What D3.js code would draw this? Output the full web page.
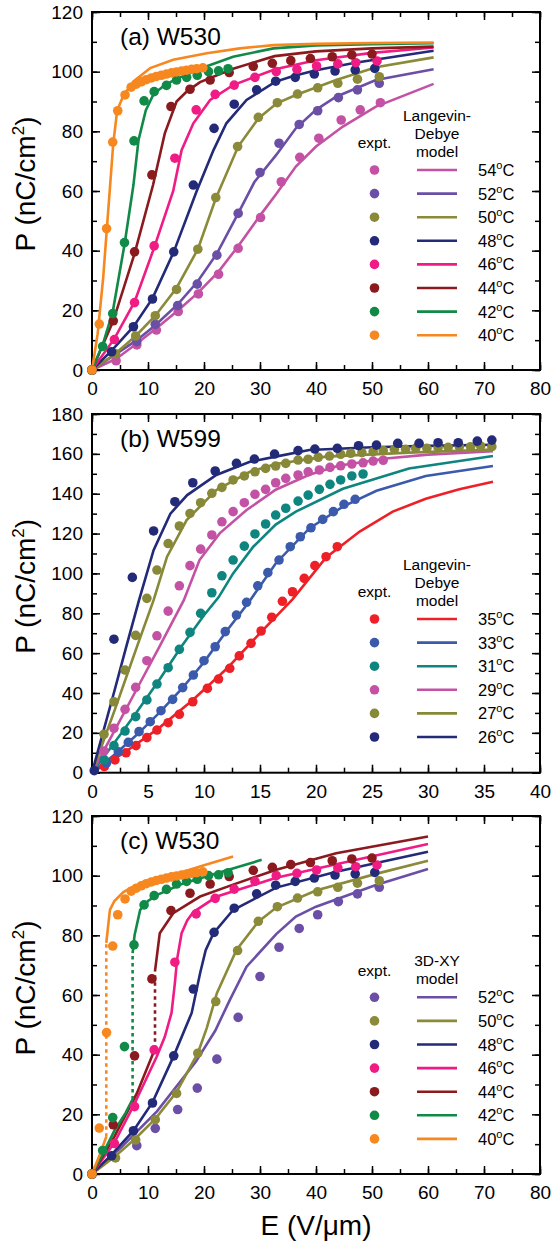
<!DOCTYPE html>
<html>
<head>
<meta charset="utf-8">
<script src="https://cdn.jsdelivr.net/npm/d3@7"></script>
<style>
  body { margin: 0; background: #fff; }
  text { font-family: "Liberation Sans", Arial, sans-serif; fill: #000; }
</style>
</head>
<body>
<svg width="552" height="1243"></svg>
<script>
// ---- experimental data, W530 (used in panels a and c) : [E (V/um), P (nC/cm2)]
const e40 = [[0,0],[1.3,15.4],[2.6,47.4],[3.7,76.4],[4.6,86.9],[5.9,92.2],[7.0,94.8],[7.9,95.8],[8.8,96.6],[9.7,97.3],[10.6,97.9],[11.5,98.4],[12.4,98.8],[13.3,99.2],[14.2,99.6],[15.1,99.9],[16.0,100.2],[16.9,100.5],[17.8,100.8],[18.7,101.0],[19.8,101.3]];
const e42 = [[0,0],[1.9,7.9],[3.7,18.9],[5.8,42.7],[7.5,76.8],[9.3,90.2],[11.1,93.3],[13.3,95.4],[15.1,97.2],[16.9,98.1],[18.8,98.8],[20.8,100],[22.6,100.3],[24.3,101]];
const e44 = [[0,0],[3.8,16.5],[7.6,39.6],[10.7,65.4],[14.1,88.3],[17.5,94.1],[21.1,97.2],[24.5,99.7],[28.8,101.8],[32.2,102.8],[35.5,103.7],[39,104.4],[42.9,105],[46.4,105.6],[50,105.9]];
const e46 = [[0,0],[4.0,10.2],[7.6,22.6],[11.1,41.6],[14.8,71],[18.6,87.2],[22,92.4],[25.4,95.5],[29.1,98.1],[32.9,100],[36.6,100.8],[40.1,101.9],[43.9,102.6],[47.1,103],[50.9,103.6]];
const e48 = [[0,0],[3.5,6.1],[7.4,14.5],[10.8,23.8],[14.6,39.6],[18.1,62],[21.8,81],[25.4,89.1],[29.4,93.9],[32.8,96.8],[36.3,98.1],[39.7,99.2],[43.4,100.2],[47,100.6],[50.5,101.1]];
const e50 = [[0,0],[4.2,5.4],[7.8,11.4],[11.3,18.2],[15.1,27],[18.9,40.5],[22.1,57.8],[26,74.9],[29.7,84.7],[33.1,89.6],[36.7,92.5],[40.3,94.6],[43.9,96.1],[47.4,97.5],[51.3,98.3]];
const e52 = [[0,0],[8,9.5],[11.3,15.3],[15.3,21.6],[18.8,28.8],[22.3,38.5],[26.1,52.5],[30,66.2],[33.4,76],[37,82.3],[40.3,86.9],[44,91.3],[47.4,93.9],[51.3,96.1]];
const e54 = [[0,0],[4.3,3.1],[8,8.4],[11.5,13.4],[15.4,19.6],[19,25.5],[22.6,32.1],[26.1,40.8],[30.1,51.1],[33.8,63.1],[37.1,71.3],[40.5,77.7],[44.5,83.8],[47.9,87.2],[51.5,89.6]];

// ---- Langevin-Debye model, W530
const ld40 = [[0,0],[1,12],[2,31],[3,56],[3.8,76],[4.5,87],[5.6,92],[7.4,96.7],[10.4,101.2],[14.5,104],[20.5,106.2],[26.4,107.8],[32.4,108.9],[40,109.3],[50,109.6],[61,109.8]];
const ld42 = [[0,0],[2,9],[3.7,19.5],[5.8,42],[7.4,62],[8.3,77],[9.6,87],[11,92.5],[13,95.5],[15,97.5],[20,101.5],[25.2,105],[32.4,107.8],[40,108.8],[50,109.2],[61,109.5]];
const ld44 = [[0,0],[3.8,16.5],[7.6,39],[10.9,62],[13,79.3],[15.1,90],[17,93.5],[19.3,96.5],[25.2,101],[32.6,105.2],[40,106.8],[50,107.8],[61,108.4]];
const ld46 = [[0,0],[4,10.5],[7.6,22.8],[11.1,41],[14.5,60],[16,73.7],[18.1,82.7],[21.1,90.5],[25.2,95.5],[32.7,100.8],[40,103.8],[50,106.3],[61,108.1]];
const ld48 = [[0,0],[3.5,6.5],[7.4,14.5],[10.8,24],[14.6,39.6],[18.7,60],[21.7,73.7],[24,82.7],[27.6,90.5],[32.7,96.6],[35.8,98.5],[40,100.5],[47,103],[61,107]];
const ld50 = [[0,0],[4.2,5.5],[7.8,11.4],[11.3,18.2],[15.1,27.5],[18.9,40.5],[22.1,57.5],[26.1,74.9],[29.7,84.3],[33,89.4],[36.4,92.2],[43.6,97.2],[50.7,101.5],[61,104.8]];
const ld52 = [[0,0],[8,10],[11.3,15],[15.3,22],[18.8,29.5],[22.3,39],[26.1,52.5],[29,63],[32.9,72.1],[36.4,81],[40,87.2],[43.6,91.6],[50.7,97.2],[61,100.8]];
const ld54 = [[0,0],[4.3,3.7],[8,8.9],[11.5,14],[15.4,20],[19,26],[22.6,33],[26.1,41.5],[30.1,52],[32.9,59],[36.4,68.2],[40,74.9],[44.8,81.6],[50.7,88.3],[61,95.9]];

// ---- experimental data, W599 (panel b)
const b26 = [[0.2,1],[1.96,67],[3.6,98],[5.5,121.3],[7.4,136],[9,145.5],[11,151.4],[12.9,155.2],[14.5,157.4],[16.3,159.9],[18.4,161.6],[19.9,162.4],[21.9,162.8],[23.8,164.1],[25.4,164.4],[27.3,165.3],[29.2,165.3],[30.9,165.6],[32.7,165.6],[34.4,166.4],[35.7,166.9]];
const b27 = [[1.07,19.3],[1.96,35.6],[2.95,51.5],[3.9,68.9],[4.9,87.5],[5.8,101.7],[6.8,115],[7.8,123.8],[8.75,130.1],[9.7,135.5],[10.7,140.2],[11.6,143.2],[12.6,146.9],[13.6,148.9],[14.55,151],[15.5,152.7],[16.4,153.9],[17.3,155.2],[18.4,156.9],[19.3,157.3],[20.2,158.3],[21.2,158.9],[22.2,159.8],[23.1,160.3],[24.1,160.6],[25.1,161.1],[26,161.6],[27,162.3],[28,162.3],[28.9,162.8],[29.9,162.8],[30.9,163.1],[31.8,163.3],[32.8,163.6],[33.8,163.6],[34.7,163.9],[35.7,163.6]];
const b29 = [[1.07,10.9],[1.96,22.3],[2.95,31.8],[3.9,42.8],[4.9,56.2],[5.8,68.7],[6.8,81.1],[7.8,93.8],[8.75,103.9],[9.7,112.2],[10.7,119.3],[11.6,125.9],[12.6,131],[13.6,135.5],[14.55,139.7],[15.5,142.2],[16.4,145.5],[17.3,147.7],[18.4,149.4],[19.3,151],[20.3,151.9],[21.25,153.2],[22.2,154],[23.2,154.9],[24.2,155.5],[25.1,156.4],[26,156.8]];
const b31 = [[1.1,6.4],[1.96,13.6],[2.95,20.9],[3.9,28.1],[4.9,36.5],[5.8,44.5],[6.8,52.7],[7.8,61.9],[8.75,70.4],[9.7,80],[10.7,90.3],[11.6,98.8],[12.6,106.7],[13.6,113.7],[14.55,119.8],[15.5,124.8],[16.4,129.3],[17.3,132.7],[18.4,136.3],[19.3,139.3],[20.3,142.2],[21.25,144.7],[22.2,146.9],[23.2,148.9],[24.2,149.9]];
const b33 = [[1.3,5],[2.35,10.5],[3.24,15.2],[4.2,20.6],[5.2,25.6],[6.16,31.1],[7.2,36.8],[8.1,42.7],[9.05,49],[10,56.2],[11,63.2],[11.9,70.8],[12.9,79.1],[13.8,85.5],[14.8,93.8],[15.7,100.4],[16.7,106.7],[17.7,113.4],[18.6,118.4],[19.55,122.9],[20.6,127.1],[21.55,131],[22.5,134.7],[23.5,137.2]];
const b35 = [[1.1,3],[2.05,6.4],[3.04,10],[3.93,13.6],[4.9,17.6],[5.8,21.4],[6.8,25.1],[7.8,29.3],[9,35.6],[10.3,42.3],[11.3,47],[12.3,52.4],[13.15,58.6],[14.2,64.9],[15.1,71.1],[16.05,78],[17,86],[17.9,90.8],[18.95,97.5],[19.9,103.9],[20.9,108.4],[21.9,113.4]];

// ---- Langevin-Debye model, W599
const m26 = [[0,0],[1,20.5],[2,41],[3,62],[4.2,86.6],[5.5,111.7],[7,130],[8.5,139.3],[11.1,149.4],[14.1,156],[16.4,158.6],[19.4,161.9],[25,163.3],[30,164],[35.8,164.6]];
const m27 = [[0,0],[1,15.5],[2,31],[3,47],[4,63],[5.5,86.6],[6.7,108.4],[8.45,126.8],[11.1,141.8],[14.1,151],[16.4,154.9],[20.9,158.6],[28.3,160.6],[35.8,162.2]];
const m29 = [[0,0],[2,21],[4,42],[6,63],[8.2,86.6],[9.6,106.7],[11.4,120.1],[13.8,131.8],[16.4,142],[19.4,149.5],[22,154],[26.25,157.7],[30,159.6],[35.8,161.3]];
const m31 = [[0,0],[2,15],[4,30.5],[6,46.5],[8,63.5],[10,79],[11.3,88],[12.6,100],[14.4,113.4],[16.4,124.5],[18.2,131],[22.4,142.5],[28.3,152.7],[35.8,158.9]];
const m33 = [[0,0],[2,9],[4,19],[6,30],[8,42],[10,55.5],[12,71],[14,85.5],[16.4,105],[19.4,122.6],[22.4,133.5],[25.4,141.5],[29.8,148.9],[35.8,153.9]];
const m35 = [[0,0],[3,10.5],[6,22.5],[9,36.5],[12,52],[15,70],[17.9,87],[20.9,108],[23.9,121],[26.85,131],[29.8,137.5],[32.8,142.2],[35.8,146]];

// ---- 3D-XY model, W530 (low branch, dotted jump, high branch)
const xy40 = [[[0,0],[1.3,6],[2.55,12.5]], [[2.55,12.5],[2.55,77.5]], [[2.55,77.5],[3.2,88.5],[4,91.5],[5.6,94.5],[7,96],[10.4,98.2],[16.3,101.3],[20,103.5],[25.2,106.4]]];
const xy42 = [[[0,0],[2,7],[4,14.5],[6,20.5],[7.25,25]], [[7.25,25],[7.25,74]], [[7.25,74],[7.6,80],[8.6,88.5],[10,91.5],[11.55,93.5],[16.3,97.4],[22.3,100.8],[30.3,105.3]]];
const xy44 = [[[0,0],[4,12.5],[8,27],[11.25,42]], [[11.25,42],[11.25,68]], [[11.25,68],[12.1,80.7],[14.5,87.4],[19.3,93],[25.2,97],[32.9,102],[43.6,107.5],[60,113.1]]];
const xy46 = [[[0,0],[4,10.5],[7.4,22.8],[11.55,39.3],[13,46],[14.2,54],[14.8,64],[15.2,72],[16,80.7],[17,85],[18.1,87.8],[22.3,93],[32.9,99.3],[43.6,103.8],[60,110.6]]];
const xy48 = [[[0,0],[3.5,6.5],[7.4,14.5],[10.8,24],[14.6,39.6],[17.8,54],[19.3,67.3],[20.3,75],[21.7,80.7],[25.2,88.5],[32.9,96],[43.6,101.3],[60,108]]];
const xy50 = [[[0,0],[4.2,6],[7.8,12],[11.3,18.5],[15.1,27.5],[18.9,40.5],[20.5,49],[22.3,60.6],[25.8,75.1],[29.7,84.6],[32.9,89.3],[40,95],[50.7,100.6],[60,105]]];
const xy52 = [[[0,0],[5,8.5],[11.6,21],[18.5,37.5],[22,48],[24.6,58.3],[27.6,69.5],[32.9,80.4],[36.4,86.3],[40,89.6],[50.7,96.9],[60,102.2]]];

// ---- legend categories and colours
const tempsA = ["54", "52", "50", "48", "46", "44", "42", "40"];
const colorsA = ["#c452a4", "#6b4fa6", "#8a8a38", "#232a78", "#f01b84", "#8b1a1e", "#118a48", "#f7871f"];
const tempsB = ["35", "33", "31", "29", "27", "26"];
const colorsB = ["#ee2027", "#3b5aab", "#0e857f", "#c452a4", "#878838", "#232a78"];
const tempsC = ["52", "50", "48", "46", "44", "42", "40"];

const exptA = [e54, e52, e50, e48, e46, e44, e42, e40];
const modelA = [ld54, ld52, ld50, ld48, ld46, ld44, ld42, ld40];
const exptB = [b35, b33, b31, b29, b27, b26];
const modelB = [m35, m33, m31, m29, m27, m26];
const exptC = [e52, e50, e48, e46, e44, e42, e40];
const modelC = [xy52, xy50, xy48, xy46, xy44, xy42, xy40];
const colorsC = colorsA.slice(1);

const svg = d3.select("svg");
const left = 92, right = 540;

function drawPanel(p) {
  const x = d3.scaleLinear().domain([0, p.xMax]).range([left, right]);
  const y = d3.scaleLinear().domain([0, p.yMax]).range([p.bottom, p.top]);
  const g = svg.append("g");

  // minor then major ticks, all pointing inward
  const xMinor = d3.range(0, p.xMax + 0.001, p.xStep / 2);
  const yMinor = d3.range(0, p.yMax + 0.001, p.yStep / 2);
  const xMajor = d3.range(0, p.xMax + 0.001, p.xStep);
  const yMajor = d3.range(0, p.yMax + 0.001, p.yStep);

  const axes = [
    [d3.axisBottom(x), p.bottom, 0, xMinor, xMajor, true],
    [d3.axisTop(x), p.top, 0, xMinor, xMajor, false],
    [d3.axisLeft(y), 0, left, yMinor, yMajor, true],
    [d3.axisRight(y), 0, right, yMinor, yMajor, false]
  ];
  axes.forEach(([ax, ty, tx, minor, major, labels]) => {
    g.append("g").attr("transform", `translate(${tx},${ty})`)
      .call(ax.tickValues(minor).tickSize(-5).tickFormat(""))
      .call(s => s.select(".domain").remove())
      .selectAll("line").attr("stroke-width", 1.5);
    const gm = g.append("g").attr("transform", `translate(${tx},${ty})`)
      .call(ax.tickValues(major).tickSize(-8).tickPadding(labels ? (ty ? 12 : 9) : 0)
        .tickFormat(labels ? d3.format("d") : ""));
    gm.select(".domain").remove();
    gm.selectAll("line").attr("stroke-width", 1.5);
    gm.selectAll("text").style("font-size", "19px").attr("font-family", null);
  });

  g.append("rect").attr("x", left).attr("y", p.top)
    .attr("width", right - left).attr("height", p.bottom - p.top)
    .attr("fill", "none").attr("stroke", "#000").attr("stroke-width", 2);

  const line = d3.line().x(d => x(d[0])).y(d => y(d[1]));

  // model curves
  p.models.forEach((m, i) => {
    const parts = p.segmented ? m : [m];
    parts.forEach((seg, k) => {
      g.append("path").attr("d", line(seg))
        .attr("fill", "none").attr("stroke", p.colors[i])
        .attr("stroke-width", 2.6)
        .attr("stroke-dasharray", p.segmented && parts.length === 3 && k === 1 ? "3.5,3.5" : null);
    });
  });

  // experimental points
  p.expt.forEach((pts, i) => {
    g.append("g").selectAll("circle").data(pts).join("circle")
      .attr("cx", d => x(d[0])).attr("cy", d => y(d[1]))
      .attr("r", 4.8).attr("fill", p.colors[i]);
  });

  // panel label
  g.append("text").attr("x", 120).attr("y", p.top + 33)
    .style("font-size", "24.5px").text(p.label);

  // y axis title
  const yt = g.append("text")
    .attr("transform", `translate(35,${(p.top + p.bottom) / 2 - 7}) rotate(-90)`)
    .attr("text-anchor", "middle").style("font-size", "28px");
  yt.append("tspan").text("P (nC/cm");
  yt.append("tspan").attr("dy", -11).style("font-size", "17px").text("2");
  yt.append("tspan").attr("dy", 11).text(")");

  // legend
  const lx = 374.5, l1 = 417, l2 = 457, tx = 478, row0 = p.legendY, step = 23.6;
  g.append("text").attr("x", lx).attr("y", row0 - 21.7)
    .attr("text-anchor", "middle").style("font-size", "15.5px").text("expt.");
  p.modelName.slice().reverse().forEach((s, k) => {
    g.append("text").attr("x", 437).attr("y", row0 - 13.3 - 17.8 * k)
      .attr("text-anchor", "middle").style("font-size", "15.5px").text(s);
  });
  p.temps.forEach((t, i) => {
    const yy = row0 + i * step;
    g.append("circle").attr("cx", lx).attr("cy", yy).attr("r", 4.8).attr("fill", p.colors[i]);
    g.append("line").attr("x1", l1).attr("x2", l2).attr("y1", yy).attr("y2", yy)
      .attr("stroke", p.colors[i]).attr("stroke-width", 2.6);
    const tt = g.append("text").attr("x", tx).attr("y", yy + 6).style("font-size", "16.5px");
    tt.append("tspan").text(t);
    tt.append("tspan").attr("dy", -7).style("font-size", "11px").text("o");
    tt.append("tspan").attr("dy", 7).text("C");
  });
}

drawPanel({label: "(a) W530", top: 12, bottom: 370, xMax: 80, xStep: 10, yMax: 120, yStep: 20,
  temps: tempsA, colors: colorsA, expt: exptA, models: modelA, segmented: false,
  modelName: ["Langevin-", "Debye", "model"], legendY: 170});
drawPanel({label: "(b) W599", top: 414, bottom: 772.7, xMax: 40, xStep: 5, yMax: 180, yStep: 20,
  temps: tempsB, colors: colorsB, expt: exptB, models: modelB, segmented: false,
  modelName: ["Langevin-", "Debye", "model"], legendY: 619});
drawPanel({label: "(c) W530", top: 816, bottom: 1174, xMax: 80, xStep: 10, yMax: 120, yStep: 20,
  temps: tempsC, colors: colorsC, expt: exptC, models: modelC, segmented: true,
  modelName: ["3D-XY", "model"], legendY: 997.3});

// x axis title
svg.append("text").attr("x", 316).attr("y", 1235).attr("text-anchor", "middle")
  .style("font-size", "28px").text("E (V/\u03bcm)");
</script>
</body>
</html>
